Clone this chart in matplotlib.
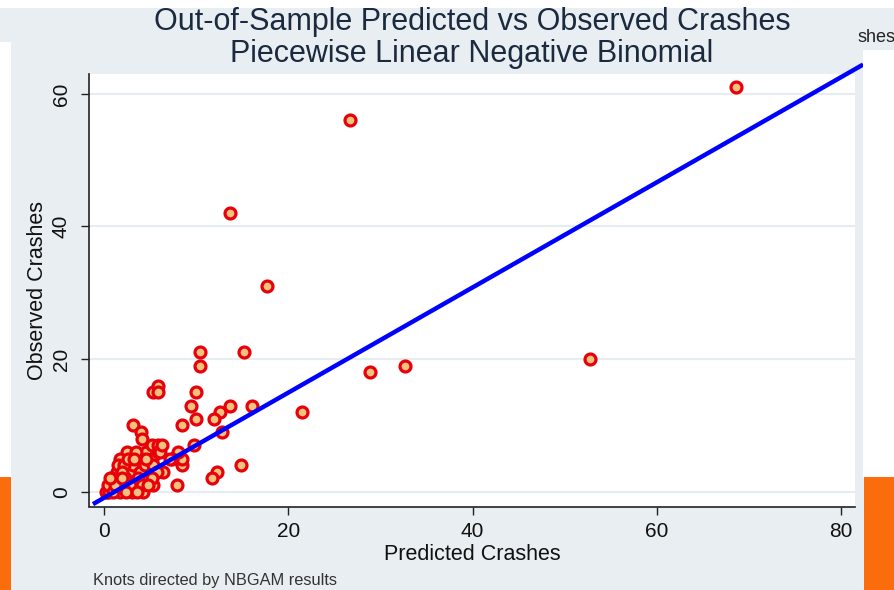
import matplotlib
matplotlib.use("Agg")
import matplotlib.pyplot as plt
from matplotlib.patches import Rectangle
import numpy as np

plt.rcParams['font.family'] = ['Liberation Sans', 'DejaVu Sans']

# Predicted vs observed crash counts (out-of-sample sites)
predicted = [
    68.6, 26.7, 13.7, 17.7, 52.8, 32.7, 28.9, 21.5, 15.2, 16.1, 14.9,
    10.4, 10.4, 10.0, 9.4, 13.7, 12.6, 11.9, 10.0, 12.8, 9.8, 8.5, 12.3, 11.7,
    8.5, 8.5, 8.0, 7.9,
    5.3, 5.9, 5.9, 3.1, 4.0, 4.1,
    2.5, 1.7, 4.6, 5.2, 5.9, 5.2, 5.9, 7.4, 6.4, 5.3, 4.2, 3.0, 1.7, 0.65,
    0.3, 1.0, 1.4, 1.5, 2.8, 3.0, 3.1, 3.9, 4.4, 3.7, 2.8, 4.1, 5.3, 5.8,
    5.2, 6.1, 7.2, 2.2, 2.6, 2.3, 2.0, 3.5, 3.3, 2.0, 2.4, 3.6, 0.2, 0.5,
    0.8, 0.4, 1.0, 0.9, 1.2, 0.6, 1.9, 4.8, 4.6, 6.3,
]
observed = [
    61, 56, 42, 31, 20, 19, 18, 12, 21, 13, 4,
    21, 19, 15, 13, 13, 12, 11, 11, 9, 7, 10, 3, 2,
    4, 5, 6, 1,
    15, 16, 15, 10, 9, 8,
    6, 5, 6, 7, 7, 5, 6, 5, 3, 1, 0, 0, 0, 1,
    0, 2, 3, 4, 3, 5, 4, 3, 4, 2, 1, 1, 4, 3,
    2, 6, 5, 4, 5, 2, 3, 6, 5, 1, 0, 0, 0, 0,
    1, 1, 0, 2, 1, 2, 2, 1, 5, 7,
]

# Fitted line of observed on predicted
fit_intercept = -0.92
fit_slope = 0.793
fit_range = [-1.2, 82.4]

x_ticks = [0, 20, 40, 60, 80]
y_ticks = [0, 20, 40, 60]

W, H = 894, 590
fig = plt.figure(figsize=(W / 100, H / 100), dpi=100)
bg = '#e8eef1'
fig.patch.set_facecolor(bg)


def fig_rect(x0, y0, x1, y1, color):
    """Rectangle given in pixel coordinates measured from the top-left."""
    fig.patches.append(Rectangle((x0 / W, 1 - y1 / H), (x1 - x0) / W, (y1 - y0) / H,
                                 transform=fig.transFigure, facecolor=color,
                                 edgecolor='none', zorder=0))


# Surrounding slide elements
fig_rect(0, 0, W, 8, 'white')
fig_rect(0, 42, 11, 477, 'white')
fig_rect(863, 50, W, 477, 'white')
fig_rect(0, 477, 11, H, '#fb6c0c')
fig_rect(864, 477, W, H, '#fb6c0c')
fig.text(857 / W, 1 - 38 / H, 'shes', fontsize=13, color='#222222', va='center', ha='left')

ax = fig.add_axes([89 / W, 1 - 506.5 / H, (855 - 89) / W, (506.5 - 74) / H])
ax.set_facecolor('white')
ax.set_xlim(-1.63, 81.52)
ax.set_ylim(-2.23, 63.0)

for s in ['top', 'right']:
    ax.spines[s].set_visible(False)
for s in ['left', 'bottom']:
    ax.spines[s].set_linewidth(1.2)
    ax.spines[s].set_color('#222222')

ax.set_xticks(x_ticks)
ax.set_yticks(y_ticks)
ax.tick_params(axis='both', direction='out', length=6, width=1.0, color='#222222',
               labelsize=15, labelcolor='#111111')
ax.tick_params(axis='x', pad=5)
ax.tick_params(axis='y', pad=7)
for lbl in ax.get_yticklabels():
    lbl.set_rotation(90)
    lbl.set_va('center')
ax.grid(axis='y', color='#e6ecef', linewidth=1.5)
ax.set_axisbelow(True)

ax.scatter(predicted, observed, s=62, facecolor='#f2c27e', edgecolor='#e8000b',
           linewidths=2.3, zorder=3)

fit_y = [fit_intercept + fit_slope * v for v in fit_range]
ax.plot(fit_range, fit_y, color='#0000ff', linewidth=3.2, zorder=4, clip_on=False,
        solid_capstyle='butt')

ax.set_xlabel('Predicted Crashes', fontsize=15.5, color='#111111', labelpad=2)
ax.set_ylabel('Observed Crashes', fontsize=15.5, color='#111111', labelpad=3)

fig.text(472 / W, 1 - 38 / H,
         'Out-of-Sample Predicted vs Observed Crashes\nPiecewise Linear Negative Binomial',
         fontsize=22, color='#1c2a3f', ha='center', va='center', linespacing=1.1)
fig.text(93 / W, 1 - 580 / H, 'Knots directed by NBGAM results', fontsize=11.8,
         color='#333333', ha='left', va='center')

fig.savefig('out.png', dpi=100, facecolor=fig.get_facecolor())
